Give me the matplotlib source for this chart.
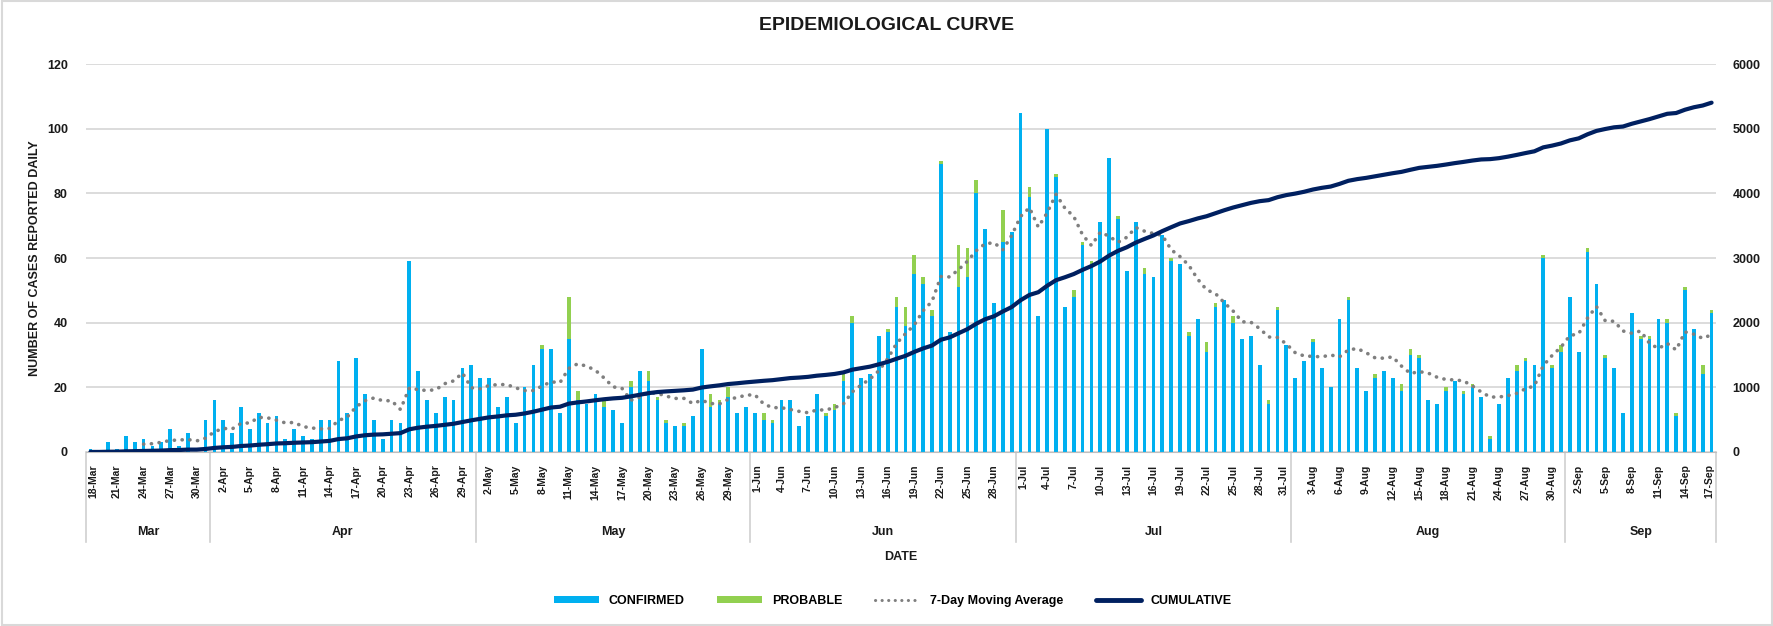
import numpy as np
import pandas as pd
import matplotlib
matplotlib.use("Agg")
import matplotlib.pyplot as plt
from matplotlib.lines import Line2D
from matplotlib.patches import Patch, Rectangle
import matplotlib.transforms as mtransforms

# Daily cases, 18-Mar to 17-Sep
START_DATE = "2020-03-18"
END_DATE = "2020-09-17"

confirmed = [
    1, 0, 3, 1, 5, 3, 4, 2, 3, 7, 2, 6, 0, 10,                       # Mar 18-31
    16, 10, 6, 14, 7, 12, 9, 11, 4, 7, 5, 4, 10, 10, 28,             # Apr 1-15
    12, 29, 18, 10, 4, 10, 9, 59, 25, 16, 12, 17, 16, 26, 27,        # Apr 16-30
    23, 23, 14, 17, 9, 20, 27, 32, 32, 12, 35, 16, 15, 18, 14, 13,   # May 1-16
    9, 20, 25, 22, 16, 9, 8, 8, 11, 32, 14, 15, 17, 12, 14,          # May 17-31
    12, 10, 9, 16, 16, 8, 11, 18, 11, 13, 22, 40, 23, 24, 36,        # Jun 1-15
    37, 45, 39, 55, 52, 42, 89, 37, 51, 54, 80, 69, 46, 65, 68,      # Jun 16-30
    105, 79, 42, 100, 85, 45, 48, 64, 58, 71, 91, 72, 56, 71, 55, 54,  # Jul 1-16
    67, 59, 58, 36, 41, 31, 45, 47, 40, 35, 36, 27, 15, 44, 33,      # Jul 17-31
    23, 28, 34, 26, 20, 41, 47, 26, 19, 23, 25, 23, 19, 30, 29, 16,  # Aug 1-16
    15, 19, 22, 18, 20, 17, 4, 15, 23, 25, 28, 27, 60, 26, 31,       # Aug 17-31
    48, 31, 62, 52, 29, 26, 12, 43, 35, 35, 41, 40, 11, 50, 38, 24, 43,  # Sep 1-17
]

probable = [
    0, 0, 0, 0, 0, 0, 0, 0, 0, 0, 0, 0, 0, 0,
    0, 0, 0, 0, 0, 0, 0, 0, 0, 0, 0, 0, 0, 0, 0,
    0, 0, 0, 0, 0, 0, 0, 0, 0, 0, 0, 0, 0, 0, 0,
    0, 0, 0, 0, 0, 0, 0, 1, 0, 0, 13, 3, 0, 0, 2, 0,
    0, 2, 0, 3, 1, 1, 0, 1, 0, 0, 4, 1, 3, 0, 0,
    0, 2, 1, 0, 0, 0, 0, 0, 1, 2, 2, 2, 0, 0, 0,
    1, 3, 6, 6, 2, 2, 1, 0, 13, 9, 4, 0, 0, 10, 0,
    0, 3, 0, 0, 1, 0, 2, 1, 1, 0, 0, 1, 0, 0, 2, 0,
    0, 1, 0, 1, 0, 3, 1, 0, 2, 0, 0, 0, 1, 1, 0,
    0, 0, 1, 0, 0, 0, 1, 0, 0, 1, 0, 0, 2, 2, 1, 0,
    0, 1, 0, 1, 1, 0, 1, 0, 0, 2, 1, 0, 1, 1, 2,
    0, 0, 1, 0, 1, 0, 0, 0, 1, 1, 0, 1, 1, 1, 0, 3, 1,
]

LEFT_TICKS = [0, 20, 40, 60, 80, 100, 120]
RIGHT_TICKS = [0, 1000, 2000, 3000, 4000, 5000, 6000]

BLUE = "#00B0F0"
GREEN = "#92D050"
GREY = "#7F7F7F"
NAVY = "#002060"
GRID = "#D9D9D9"
TEXT = "#1a1a1a"

plt.rcParams['font.family'] = ['Liberation Sans', 'DejaVu Sans']
plt.rcParams['font.weight'] = 'bold'

dates = pd.date_range(START_DATE, END_DATE, freq="D")
df = pd.DataFrame({"date": dates, "confirmed": confirmed, "probable": probable})
df["total"] = df["confirmed"] + df["probable"]
df["ma7"] = df["total"].rolling(7).mean()
df["cumulative"] = df["total"].cumsum()
x = np.arange(len(df))

W, H = 1774, 626
fig = plt.figure(figsize=(W / 100, H / 100), dpi=100)

# plot area in pixels
left_px, right_px, top_px, bottom_px = 86, 1716, 64, 452
ax = fig.add_axes([left_px / W, 1 - bottom_px / H,
                   (right_px - left_px) / W, (bottom_px - top_px) / H])
ax2 = ax.twinx()

dotted = (0, (0.05, 2.1))

ax.bar(x, df["confirmed"], width=0.42, color=BLUE, zorder=2)
ax.bar(x, df["probable"], bottom=df["confirmed"], width=0.42, color=GREEN, zorder=2)
ax.plot(x, df["ma7"], color=GREY, lw=2.6, linestyle=dotted,
        dash_capstyle='round', zorder=3)
ax2.plot(x, df["cumulative"], color=NAVY, lw=3, solid_capstyle='round', zorder=4)

ax.set_xlim(-0.5, len(df) - 0.5)
ax.set_ylim(0, 120)
ax2.set_ylim(0, 6000)
ax.set_yticks(LEFT_TICKS)
ax2.set_yticks(RIGHT_TICKS)
ax.grid(axis='y', color=GRID, lw=1.3, zorder=0)
ax.set_axisbelow(True)

for a in (ax, ax2):
    for s in ("top", "left", "right"):
        a.spines[s].set_visible(False)
    a.spines["bottom"].set_color("#BFBFBF")
ax2.spines["bottom"].set_visible(False)

ax.tick_params(axis='y', length=0, pad=13, labelsize=9, labelcolor=TEXT)
ax2.tick_params(axis='y', length=0, pad=12, labelsize=9, labelcolor=TEXT)

tick_pos = x[::3]
tick_lbl = [f"{d.day}-{d.strftime('%b')}" for d in df["date"].iloc[::3]]
ax.set_xticks(tick_pos)
ax.set_xticklabels(tick_lbl, rotation=90, fontsize=7.5, color=TEXT)
ax.tick_params(axis='x', length=0, pad=9)

# keep labels next to a month divider clear of the divider line
is_first = (df["date"].dt.day == 1).to_numpy()
is_first[0] = True
is_last = (df["date"] + pd.Timedelta(days=1)).dt.day.eq(1).to_numpy()
is_last[-1] = True
for pos, lbl in zip(tick_pos, ax.get_xticklabels()):
    shift = 2.5 if is_first[pos] else (-2.5 if is_last[pos] else 0)
    if shift:
        off = mtransforms.ScaledTranslation(shift / 100, 0, fig.dpi_scale_trans)
        lbl.set_transform(lbl.get_transform() + off)

# month level of the category axis
ax_h = bottom_px - top_px
trans = mtransforms.blended_transform_factory(ax.transData, ax.transAxes)
months = df.groupby(df["date"].dt.to_period("M")).apply(lambda g: (g.index.min(), g.index.max()))
edges = [-0.5]
for per, (i0, i1) in months.items():
    edges.append(i1 + 0.5)
    ax.text((i0 + i1) / 2, -(532 - bottom_px) / ax_h, per.strftime('%b'), transform=trans,
            ha='center', va='center', fontsize=9, color=TEXT)
for e in edges:
    ax.add_line(Line2D([e, e], [0, -(542 - bottom_px) / ax_h], transform=trans,
                       color="#D0D0D0", lw=1.2, clip_on=False))

fig.text((left_px + right_px) / 2 / W, 1 - 557 / H, "DATE", ha='center', va='center',
         fontsize=9, color=TEXT)
fig.text(35 / W, 1 - (top_px + bottom_px) / 2 / H, "NUMBER OF CASES REPORTED DAILY",
         rotation=90, ha='center', va='center', fontsize=9, color=TEXT)
fig.text(0.5, 1 - 25 / H, "EPIDEMIOLOGICAL CURVE", ha='center', va='center',
         fontsize=14, color=TEXT)

handles = [
    Patch(facecolor=BLUE, edgecolor='none'),
    Patch(facecolor=GREEN, edgecolor='none'),
    Line2D([], [], color=GREY, lw=2.2, linestyle=dotted, dash_capstyle='round'),
    Line2D([], [], color=NAVY, lw=3.5, solid_capstyle='round'),
]
labels = ["CONFIRMED", "PROBABLE", "7-Day Moving Average", "CUMULATIVE"]
fig.legend(handles, labels, loc='center', bbox_to_anchor=(893 / W, 1 - 601 / H), ncol=4,
           frameon=False, fontsize=9, handlelength=3.6, handleheight=0.55,
           columnspacing=2.6, handletextpad=0.8)

fig.add_artist(Rectangle((0.001, 0.002), 0.998, 0.996, transform=fig.transFigure,
                         fill=False, edgecolor="#D9D9D9", lw=1.5))

fig.savefig("out.png", dpi=100)
